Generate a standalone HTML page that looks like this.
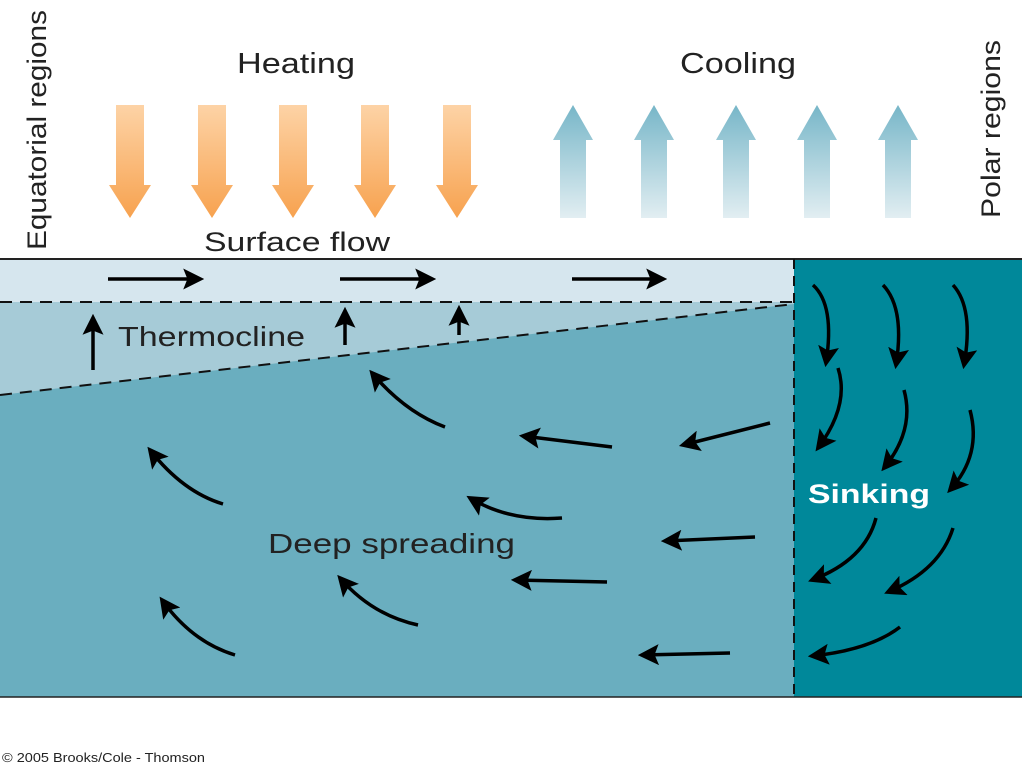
<!DOCTYPE html>
<html><head><meta charset="utf-8"><style>
html,body{margin:0;padding:0;background:#fff;}
svg{display:block;}
text{font-family:"Liberation Sans",sans-serif;}
</style></head><body>
<svg width="1024" height="767" viewBox="0 0 1024 767" xmlns="http://www.w3.org/2000/svg">
<defs>
<linearGradient id="og" x1="0" y1="0" x2="0" y2="1">
<stop offset="0" stop-color="#fdd3a6"/><stop offset="1" stop-color="#f7a24f"/></linearGradient>
<linearGradient id="bg" x1="0" y1="0" x2="0" y2="1">
<stop offset="0" stop-color="#77b6c8"/><stop offset="1" stop-color="#e2eef2"/></linearGradient>
<marker id="ah" viewBox="0 0 10 10" refX="8" refY="5" markerWidth="6" markerHeight="6" orient="auto" markerUnits="strokeWidth">
<path d="M0,0 L10,5 L0,10 L2,5 z" fill="#000"/></marker>
</defs>
<rect width="1024" height="767" fill="#fff"/>
<rect x="0" y="259" width="794" height="438" fill="#6aaebf"/>
<polygon points="0,302 794,302 794,304 0,395" fill="#a6cbd7"/>
<rect x="0" y="259" width="794" height="43" fill="#d6e6ee"/>
<rect x="794" y="259" width="228" height="438" fill="#00889a"/>
<line x1="0" y1="259" x2="1022" y2="259" stroke="#222" stroke-width="2"/>
<line x1="0" y1="697" x2="1022" y2="697" stroke="#222" stroke-width="1.5"/>
<line x1="0" y1="302" x2="794" y2="302" stroke="#111" stroke-width="2" stroke-dasharray="12,8"/>
<line x1="0" y1="395" x2="794" y2="304" stroke="#111" stroke-width="2" stroke-dasharray="12,8"/>
<line x1="794" y1="259" x2="794" y2="697" stroke="#111" stroke-width="2" stroke-dasharray="10,7"/>
<g fill="url(#og)">
<path d="M116,105 h28 v80 h7 l-21,33 l-21,-33 h7 z"/>
<path d="M198,105 h28 v80 h7 l-21,33 l-21,-33 h7 z"/>
<path d="M279,105 h28 v80 h7 l-21,33 l-21,-33 h7 z"/>
<path d="M361,105 h28 v80 h7 l-21,33 l-21,-33 h7 z"/>
<path d="M443,105 h28 v80 h7 l-21,33 l-21,-33 h7 z"/>
</g>
<g fill="url(#bg)">
<path d="M560,218 v-78 h-7 l20,-35 l20,35 h-7 v78 z"/>
<path d="M641,218 v-78 h-7 l20,-35 l20,35 h-7 v78 z"/>
<path d="M723,218 v-78 h-7 l20,-35 l20,35 h-7 v78 z"/>
<path d="M804,218 v-78 h-7 l20,-35 l20,35 h-7 v78 z"/>
<path d="M885,218 v-78 h-7 l20,-35 l20,35 h-7 v78 z"/>
</g>
<text x="237" y="73" font-size="29" textLength="118" lengthAdjust="spacingAndGlyphs" fill="#222">Heating</text>
<text x="680" y="73" font-size="29" textLength="116" lengthAdjust="spacingAndGlyphs" fill="#222">Cooling</text>
<text x="204" y="251" font-size="27" textLength="186" lengthAdjust="spacingAndGlyphs" fill="#222">Surface flow</text>
<text x="118" y="346" font-size="28" textLength="187" lengthAdjust="spacingAndGlyphs" fill="#222">Thermocline</text>
<text x="268" y="553" font-size="28" textLength="247" lengthAdjust="spacingAndGlyphs" fill="#222">Deep spreading</text>
<text x="808" y="503" font-size="27" font-weight="bold" textLength="122" lengthAdjust="spacingAndGlyphs" fill="#fff">Sinking</text>
<text transform="translate(46,250) rotate(-90)" font-size="27" textLength="240" lengthAdjust="spacingAndGlyphs" fill="#222">Equatorial regions</text>
<text transform="translate(1000,218) rotate(-90)" font-size="27" textLength="178" lengthAdjust="spacingAndGlyphs" fill="#222">Polar regions</text>
<text x="2" y="762" font-size="13" textLength="203" lengthAdjust="spacingAndGlyphs" fill="#222">© 2005 Brooks/Cole - Thomson</text>
<g stroke="#000" stroke-width="3.5" fill="none" marker-end="url(#ah)">
<path d="M108,279 H200"/><path d="M340,279 H432"/><path d="M572,279 H663"/>
<path d="M93,370 V318"/><path d="M345,345 V311"/><path d="M459,335 V309"/>
<path d="M813,285 Q835,305 826,363"/>
<path d="M883,285 Q905,308 896,365"/>
<path d="M953,285 Q974,308 964,365"/>
<path d="M838,368 Q850,405 818,448"/>
<path d="M904,390 Q915,430 884,468"/>
<path d="M970,410 Q982,455 950,490"/>
<path d="M876,518 Q865,560 812,580"/>
<path d="M953,528 Q940,570 888,592"/>
<path d="M900,627 Q870,650 812,656"/>
<path d="M445,427 Q405,412 372,373"/>
<path d="M612,447 L523,436"/>
<path d="M770,423 L683,445"/>
<path d="M223,504 Q183,492 150,450"/>
<path d="M562,518 Q510,522 470,498"/>
<path d="M755,537 L665,541"/>
<path d="M607,582 L515,580"/>
<path d="M418,625 Q372,615 340,578"/>
<path d="M235,655 Q192,642 162,600"/>
<path d="M730,653 L642,655"/>
</g>
</svg>
</body></html>
